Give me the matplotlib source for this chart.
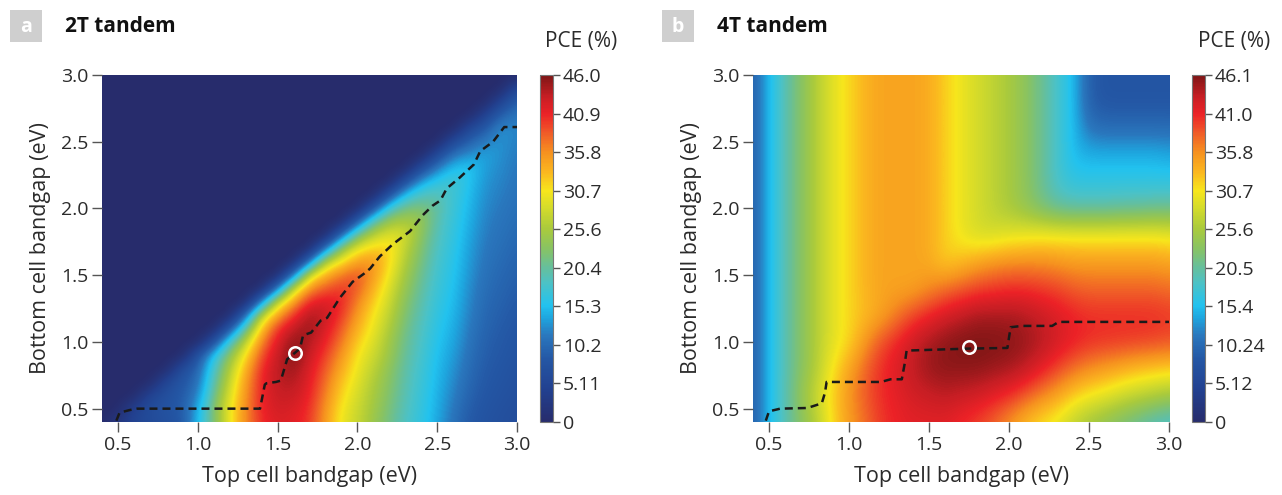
import numpy as np
import matplotlib
matplotlib.use("Agg")
import matplotlib.pyplot as plt
from matplotlib.colors import LinearSegmentedColormap
from matplotlib.patches import Rectangle

plt.rcParams['font.family'] = ['Open Sans', 'DejaVu Sans']

# ---------------- data ----------------
top_gaps = [round(0.4 + 0.1 * i, 1) for i in range(27)]          # 0.4 .. 3.0 eV
bottom_gaps_2t = [round(0.4 + 0.1 * i, 1) for i in range(27)]    # 0.4 .. 3.0 eV

# 2T PCE (%) : one list per top-cell gap, values for bottom gap 0.4, 0.5, ... (zero beyond)
pce_2t_by_top = [
    [0],
    [2.5, 0],
    [5, 4.5, 0],
    [6, 6.5, 5, 0],
    [7, 7.5, 7, 5.5, 0],
    [8, 8.5, 8.5, 8, 6.5, 0],
    [15, 14, 12, 10.5, 9.5, 7.5, 0],
    [22, 22.5, 21, 19.5, 18, 15.5, 7, 0],
    [30, 30, 29, 27.5, 26, 23.5, 18, 8, 0],
    [36, 36, 35.5, 35, 33.5, 31, 27, 20, 10, 0],
    [40.5, 41, 41, 41, 40.5, 39, 36.5, 33, 27, 12, 0],
    [42, 42.5, 43, 43.5, 43.5, 43, 42, 40, 35, 28, 11, 0],
    [41.5, 42, 43, 44, 45, 46, 45.5, 43.5, 40, 35, 28, 11, 0],
    [40, 40.5, 41, 41.5, 42, 43, 44, 45, 44.5, 41, 36, 29, 11, 0],
    [35, 35.5, 36.5, 37.5, 38.5, 39.5, 41, 42, 43, 42, 38.5, 34, 27, 11, 0],
    [30, 30.5, 31.5, 32.5, 34, 35.5, 37, 38.5, 40, 41, 40, 37, 31, 24, 10, 0],
    [27.5, 28, 28.5, 29.3, 30, 30.7, 32, 33.5, 35, 36.5, 38.5, 39, 35, 30, 22, 9, 0],
    [24.5, 25, 25.5, 26, 27, 28, 29, 30, 30.7, 32, 33.5, 35, 35.5, 32, 27, 20, 8, 0],
    [21.5, 22, 22.5, 23, 23.5, 24.5, 25, 26, 27, 28, 29, 30.3, 31.5, 32, 29.5, 25, 18, 7.5, 0],
    [18.5, 19, 19.3, 19.7, 20, 20.5, 21, 21.5, 22.3, 23, 24, 25, 26, 27, 28.5, 26, 22, 16, 7, 0],
    [16.5, 16.8, 17, 17.3, 17.6, 18, 18.4, 18.8, 19.3, 19.8, 20.4, 21, 21.8, 22.5, 23.3, 24.5, 22.5,
     19, 14, 6.5, 0],
    [14, 14.3, 14.5, 14.8, 15, 15.3, 15.6, 16, 16.4, 16.8, 17.2, 17.6, 18, 18.5, 19, 19.5, 20.3,
     19.5, 16.5, 12, 6, 0],
    [11, 11.5, 12, 12.5, 13, 13.5, 14, 14.4, 14.8, 15.2, 15.5, 15.8, 16.1, 16.4, 16.7, 17, 17.3,
     17.6, 18, 15.5, 11.5, 6, 0],
    [8.5, 9, 9.5, 10, 10.4, 10.8, 11.2, 11.6, 12, 12.3, 12.6, 13, 13.3, 13.6, 14, 14.4, 14.8,
     15.2, 15.6, 16, 13, 9.5, 5.5, 0],
    [7.5, 7.8, 8.1, 8.4, 8.7, 9, 9.3, 9.6, 9.9, 10.2, 10.5, 10.8, 11.1, 11.4, 11.7, 12, 12.3,
     12.6, 13, 13.4, 13.8, 12, 8.5, 4.5, 0],
    [7, 7.2, 7.5, 7.8, 8, 8.3, 8.5, 8.8, 9.1, 9.4, 9.7, 10, 10.3, 10.6, 10.9, 11.2, 11.5,
     11.8, 12.1, 12.4, 12.7, 13, 13, 9.5, 5, 0],
    [6.5, 6.7, 6.9, 7.1, 7.3, 7.6, 7.8, 8, 8.3, 8.6, 8.9, 9.2, 9.5, 9.8, 10.1, 10.4, 10.7,
     11, 11.2, 11.4, 11.6, 11.8, 12, 11.5, 9.5, 6, 0],
]

# 4T PCE (%) : one row per bottom-cell gap (0.4 .. 3.0, step 0.2), values for the 27 top-cell gaps
bottom_gaps_4t = [0.4, 0.6, 0.8, 1.0, 1.2, 1.4, 1.6, 1.8, 2.0, 2.2, 2.4, 2.6, 2.8, 3.0]
pce_4t = [
    [9, 15, 19.5, 23, 26.5, 31.5, 35, 37.5, 40, 41, 41.5, 41.5, 41.5, 40.5, 39.5, 38, 35.5, 33, 31, 29.5, 27, 25, 23.5, 22, 20.5, 19, 18],
    [9, 15, 19.5, 24, 28, 32, 35.5, 38.5, 40.5, 41.5, 42.5, 43, 43.5, 43, 42.5, 41.5, 40.5, 38.5, 36.5, 34.5, 32, 30.5, 29.5, 28, 27, 26, 25],
    [9, 15, 19.5, 23, 26.5, 31, 34.5, 38, 40.5, 42, 43.5, 45, 45.5, 45.5, 45.5, 45, 44.5, 43.5, 41.5, 39.5, 37.5, 36, 35, 34, 33, 32.5, 32],
    [9, 15, 19.5, 23, 26.5, 29.5, 31.5, 35.5, 39, 41, 43, 44.5, 45.5, 46, 46.1, 46, 45.7, 45, 44, 42.5, 41.3, 40.5, 40.2, 40, 39.8, 39.5, 39],
    [9, 15, 19.5, 23, 26.5, 29.5, 31.5, 33, 34.5, 37, 39.5, 41, 42.5, 43.5, 44.5, 44.5, 44.5, 44, 43, 42, 41, 40.5, 40.5, 40.5, 40.5, 40.5, 40],
    [9, 15, 19.5, 23, 26.5, 29.5, 31.5, 33.5, 34.5, 34.5, 34.5, 36, 37.5, 38.5, 39.5, 40, 40.5, 40.5, 40, 39.5, 38.5, 38, 38, 38, 38, 38, 37.5],
    [9, 15, 19.5, 23, 26.5, 29.5, 31.5, 33.5, 34.5, 34.5, 34.5, 34, 32, 33, 34.5, 35.5, 36, 36, 36, 35.5, 35, 35, 35, 35, 35, 35, 34.5],
    [9, 15, 19.5, 23, 26.5, 29.5, 31.5, 33.5, 34.5, 34.5, 34.5, 34, 32, 30, 28.5, 28.5, 29.5, 30, 30.5, 30.5, 30.5, 30.5, 30.5, 30.5, 30.5, 30.5, 30],
    [9, 15, 19.5, 23, 26.5, 29.5, 31.5, 33.5, 34.5, 34.5, 34.5, 34, 32, 30, 28.5, 27, 25.5, 24, 22, 20.5, 20, 20, 20, 20.5, 20.5, 21, 21],
    [9, 15, 19.5, 23, 26.5, 29.5, 31.5, 33.5, 34.5, 34.5, 34.5, 34, 32, 30, 28.5, 27, 25.5, 23.5, 21, 18, 16.5, 16.5, 16.5, 16.5, 16.5, 16.5, 16.5],
    [9, 15, 19.5, 23, 26.5, 29.5, 31.5, 33.5, 34.5, 34.5, 34.5, 34, 32, 30, 28.5, 27, 25.5, 23.5, 21, 18, 15, 14.5, 14.5, 14.5, 14.5, 14.5, 14],
    [9, 15, 19.5, 23, 26.5, 29.5, 31.5, 33.5, 34.5, 34.5, 34.5, 34, 32, 30, 28.5, 27, 25.5, 23.5, 21, 18, 15, 11, 10.5, 10.5, 10.5, 10.5, 10.5],
    [9, 15, 19.5, 23, 26.5, 29.5, 31.5, 33.5, 34.5, 34.5, 34.5, 34, 32, 30, 28.5, 27, 25.5, 23.5, 21, 18, 15, 9, 8, 8, 8, 8, 8],
    [9, 15, 19.5, 23, 26.5, 29.5, 31.5, 33.5, 34.5, 34.5, 34.5, 34, 32, 30, 28.5, 27, 25.5, 23.5, 21, 18, 15, 9, 8, 8, 8, 8, 8],
]

# optimum bottom gap (dashed lines) and optimum points (circles)
opt_top_2t = [0.49, 0.51, 0.575, 0.62, 1.39, 1.42, 1.43, 1.49, 1.52, 1.56, 1.61, 1.64, 1.66, 1.71,
              1.77, 1.81, 1.89, 1.97, 2.04, 2.08, 2.14, 2.22, 2.33, 2.41, 2.47, 2.52, 2.56, 2.64,
              2.73, 2.77, 2.85, 2.92, 3.0]
opt_bot_2t = [0.41, 0.47, 0.49, 0.50, 0.50, 0.68, 0.69, 0.70, 0.71, 0.87, 0.92, 0.95, 1.05, 1.07,
              1.16, 1.18, 1.33, 1.45, 1.51, 1.55, 1.64, 1.73, 1.83, 1.95, 2.02, 2.06, 2.15, 2.23,
              2.33, 2.43, 2.50, 2.61, 2.61]
opt_top_4t = [0.48, 0.50, 0.57, 0.74, 0.83, 0.85, 0.86, 1.20, 1.26, 1.33, 1.35, 1.36, 1.75, 1.99,
              2.01, 2.08, 2.27, 2.31, 3.0]
opt_bot_4t = [0.41, 0.48, 0.50, 0.505, 0.54, 0.62, 0.70, 0.70, 0.72, 0.72, 0.85, 0.935, 0.95, 0.955,
              1.11, 1.12, 1.12, 1.15, 1.15]
best_2t = (1.61, 0.92)
best_4t = (1.75, 0.96)

cbar_ticks_2t = ["0", "5.11", "10.2", "15.3", "20.4", "25.6", "30.7", "35.8", "40.9", "46.0"]
cbar_ticks_4t = ["0", "5.12", "10.24", "15.4", "20.5", "25.6", "30.7", "35.8", "41.0", "46.1"]
vmax_2t, vmax_4t = 46.0, 46.1
axis_ticks = [0.5, 1.0, 1.5, 2.0, 2.5, 3.0]

# ---------------- colormap ----------------
cm_nodes = [
    (0.00, "#272c6c"), (0.09, "#22408f"), (0.18, "#2457a5"), (0.25, "#2a78be"),
    (0.30, "#1ea6df"), (0.335, "#22c2ef"), (0.40, "#4cc2c6"), (0.445, "#66bf9c"),
    (0.50, "#88c363"), (0.556, "#a9ca3d"), (0.62, "#d6dc2a"), (0.667, "#f7e61c"),
    (0.72, "#fbb81f"), (0.778, "#f6911f"), (0.835, "#f05a28"), (0.889, "#ec2227"),
    (0.94, "#c61e24"), (1.00, "#7e1616"),
]
cmap = LinearSegmentedColormap.from_list("pce", cm_nodes)

# ---------------- figure ----------------
fig = plt.figure(figsize=(12.82, 4.95), dpi=100)
W, H = 1282, 495


def rect(x0, y0, x1, y1):
    return [x0 / W, 1 - y1 / H, (x1 - x0) / W, (y1 - y0) / H]


tick_color = "#555555"
text_color = "#2b2b2b"


def style_axes(ax):
    ax.set_xlim(0.4, 3.0)
    ax.set_ylim(0.4, 3.0)
    ax.set_xticks(axis_ticks)
    ax.set_yticks(axis_ticks)
    ax.set_xticklabels([f"{v:.1f}" for v in axis_ticks])
    ax.set_yticklabels([f"{v:.1f}" for v in axis_ticks])
    for s in ax.spines.values():
        s.set_visible(False)
    ax.tick_params(direction="out", length=7, width=1.0, color=tick_color,
                   labelsize=14, labelcolor=text_color, pad=3)
    ax.set_xlabel("Top cell bandgap (eV)", fontsize=15.5, color=text_color, labelpad=9)
    ax.set_ylabel("Bottom cell bandgap (eV)", fontsize=15.5, color=text_color, labelpad=7)


def add_cbar(mesh, cax, vmax, labels):
    cb = fig.colorbar(mesh, cax=cax)
    cb.set_ticks(np.linspace(0, vmax, len(labels)))
    cb.set_ticklabels(labels)
    cb.outline.set_edgecolor("#777777")
    cb.outline.set_linewidth(0.8)
    cb.ax.tick_params(length=5, width=1.0, color=tick_color, labelsize=14,
                      labelcolor=text_color, pad=2)


# panel a
ax1 = fig.add_axes(rect(102, 75, 517, 422))
z2 = np.zeros((len(bottom_gaps_2t), len(top_gaps)))
for j, col in enumerate(pce_2t_by_top):
    z2[:len(col), j] = col
m1 = ax1.imshow(z2, origin="lower", aspect="auto", cmap=cmap, vmin=0, vmax=vmax_2t,
                interpolation="bicubic",
                extent=[top_gaps[0] - 0.05, top_gaps[-1] + 0.05,
                        bottom_gaps_2t[0] - 0.05, bottom_gaps_2t[-1] + 0.05])
ax1.plot(opt_top_2t, opt_bot_2t, ls=(0, (3.2, 2.0)), color="#1a1a1a", lw=1.8)
ax1.plot(*best_2t, marker="o", ms=9, mfc="none", mec="white", mew=1.8)
style_axes(ax1)
cax1 = fig.add_axes(rect(540, 75, 553, 422))
add_cbar(m1, cax1, vmax_2t, cbar_ticks_2t)

# panel b
ax2 = fig.add_axes(rect(753, 75, 1169, 422))
m2 = ax2.imshow(np.array(pce_4t), origin="lower", aspect="auto", cmap=cmap, vmin=0, vmax=vmax_4t,
                interpolation="bicubic",
                extent=[top_gaps[0] - 0.05, top_gaps[-1] + 0.05,
                        bottom_gaps_4t[0] - 0.1, bottom_gaps_4t[-1] + 0.1])
ax2.plot(opt_top_4t, opt_bot_4t, ls=(0, (3.2, 2.0)), color="#1a1a1a", lw=1.8)
ax2.plot(*best_4t, marker="o", ms=9, mfc="none", mec="white", mew=1.8)
style_axes(ax2)
cax2 = fig.add_axes(rect(1192, 75, 1205, 422))
add_cbar(m2, cax2, vmax_4t, cbar_ticks_4t)

# titles, panel letters, colorbar titles
for x0, letter, title, pce_x in [(10, "a", "2T tandem", 617), (662, "b", "4T tandem", 1270)]:
    fig.patches.append(Rectangle((x0 / W, 1 - 42 / H), 32 / W, 32 / H, transform=fig.transFigure,
                                 facecolor="#cfcfcf", edgecolor="none"))
    fig.text((x0 + 16) / W, 1 - 27 / H, letter, color="white", fontsize=14, fontweight="bold",
             ha="center", va="center")
    fig.text((x0 + 55) / W, 1 - 26 / H, title, color="#111111", fontsize=15, fontweight="bold",
             ha="left", va="center")
    fig.text(pce_x / W, 1 - 42 / H, "PCE (%)", color=text_color, fontsize=15,
             ha="right", va="center")

fig.savefig("out.png", dpi=100)
